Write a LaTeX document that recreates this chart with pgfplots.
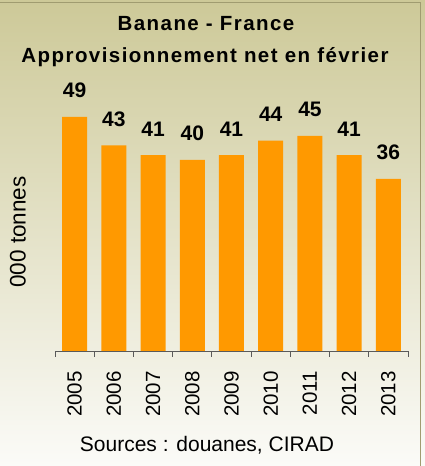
\documentclass[border=0pt]{standalone}
\usepackage{pgfplots}
\pgfplotsset{compat=1.18}
\usepackage{fontspec}
\setmainfont{Liberation Sans}
\newfontfamily\titlefont[LetterSpace=7]{Liberation Sans}

\definecolor{barorange}{RGB}{255,153,0}
\definecolor{bgtop}{RGB}{205,201,152}
\definecolor{bgmid}{RGB}{232,230,205}
\definecolor{bgbot}{RGB}{251,251,248}
\definecolor{frameline}{RGB}{160,156,112}
\definecolor{axisgray}{RGB}{90,90,90}

\begin{document}
\begin{tikzpicture}[x=1pt,y=1pt]
\useasboundingbox (0,0) rectangle (425,466);
\shade[top color=bgtop, middle color=bgmid, bottom color=bgbot] (0,0) rectangle (425,466);
\draw[frameline, line width=1pt] (0,463.5) -- (420.5,463.5) -- (420.5,0);

\node[anchor=base, font=\titlefont\bfseries\fontsize{20.5}{24}\selectfont] at (206,435) {Banane - France};
\node[anchor=base, font=\titlefont\bfseries\fontsize{20.5}{24}\selectfont] at (205,403) {Approvisionnement net en février};
\node[anchor=base, font=\fontsize{21}{25}\selectfont] at (207,14) {Sources : douanes, CIRAD};
\node[rotate=90, font=\fontsize{22.5}{26}\selectfont] at (18,234) {000 tonnes};

\begin{axis}[
    at={(55pt,115pt)}, anchor=south west,
    scale only axis, width=353pt, height=239pt,
    xmin=-0.5, xmax=8.5, ymin=0, ymax=50,
    axis y line=none, axis x line*=bottom,
    axis line style={axisgray, line width=0.8pt},
    xtick={0,...,8},
    xticklabels={2005,2006,2007,2008,2009,2010,2011,2012,2013},
    major tick length=0pt,
    minor xtick={-0.5,0.5,...,8.5},
    minor tick length=6pt,
    tick align=outside,
    minor tick style={axisgray, line width=0.8pt},
    xticklabel style={rotate=90, anchor=east, inner sep=0pt,
        font=\fontsize{20.5}{25}\selectfont},
    xticklabel shift=20pt,
    ybar, bar width=25pt,
    clip=false,
    /pgf/number format/assume math mode=true,
    nodes near coords,
    nodes near coords style={anchor=base, yshift=19pt, inner sep=0pt,
        font=\bfseries\fontsize{21}{25}\selectfont},
]
\addplot[fill=barorange, draw=none] coordinates {
    (0,49) (1,43) (2,41) (3,40) (4,41) (5,44) (6,45) (7,41) (8,36)
};
\end{axis}
\end{tikzpicture}
\end{document}
